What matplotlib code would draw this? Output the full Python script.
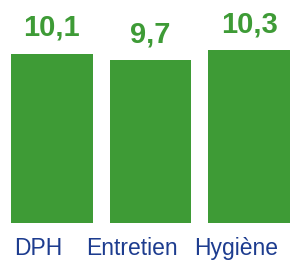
import matplotlib
matplotlib.use("Agg")
import matplotlib.pyplot as plt
from matplotlib.transforms import offset_copy

categories = ["DPH", "Entretien", "Hygiène"]
values = [10.1, 9.7, 10.3]
value_labels = ["10,1", "9,7", "10,3"]

green = "#3e9b36"
blue = "#1d3c8f"

fig = plt.figure(figsize=(2.9, 2.6), dpi=100)
ax = fig.add_axes([11/290, (260-223)/260, 279/290, 1 - (260-223)/260])
x = list(range(len(categories)))
width = 0.83
bars = ax.bar(x, values, width=width, color=green)
ax.set_xlim(-width/2, len(categories) - 1 + width/2)
ax.set_ylim(0, 13.3)
ax.axis("off")

for xi, v, lab in zip(x, values, value_labels):
    tr = offset_copy(ax.transData, fig=fig, x=0, y=18, units="dots")
    ax.text(xi, v, lab, transform=tr, ha="center", va="baseline",
            color=green, fontsize=21, fontweight="bold", family="Liberation Sans")

label_dx = [-14, -19, -13]
for xi, c, dx in zip(x, categories, label_dx):
    tr = offset_copy(ax.transData, fig=fig, x=dx, y=-32, units="dots")
    ax.text(xi, 0, c, transform=tr, ha="center", va="baseline",
            color=blue, fontsize=16.5, family="Liberation Sans")

fig.savefig("out.png", dpi=100)
